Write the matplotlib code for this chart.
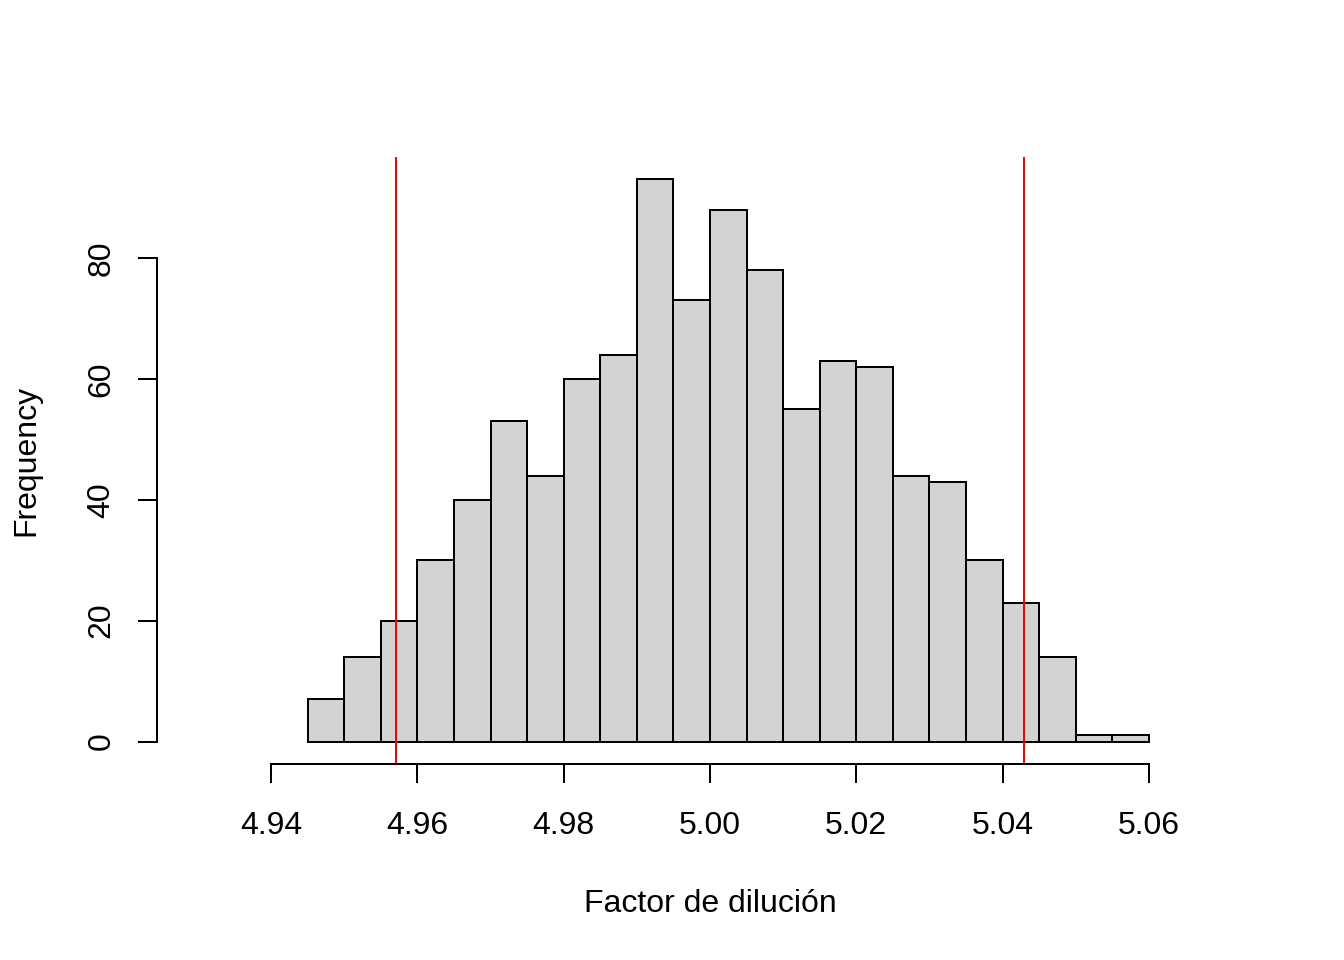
import numpy as np
import matplotlib.pyplot as plt

plt.rcParams['font.family'] = ['Liberation Sans', 'DejaVu Sans']

# histogram bins (width 0.005) and counts
breaks = np.round(np.arange(4.945, 5.0601, 0.005), 3)
counts = [7, 14, 20, 30, 40, 53, 44, 60, 64, 93, 73, 88, 78,
          55, 63, 62, 44, 43, 30, 23, 14, 1, 1]
limits = [4.9571, 5.0429]

x_ticks = [4.94, 4.96, 4.98, 5.00, 5.02, 5.04, 5.06]
x_labels = ['4.94', '4.96', '4.98', '5.00', '5.02', '5.04', '5.06']
y_ticks = [0, 20, 40, 60, 80]

fig = plt.figure(figsize=(7, 5), dpi=192)
ax = fig.add_axes([157 / 1344, 196 / 960, 1106 / 1344, 607 / 960])

lw = 0.75
ax.bar(breaks[:-1], counts, width=np.diff(breaks), align='edge',
       color='#D3D3D3', edgecolor='black', linewidth=lw)
for v in limits:
    ax.axvline(v, color='red', linewidth=lw)

ax.set_xlim(4.9244, 5.0756)
ax.set_ylim(-3.72, 96.72)

for s in ['top', 'right']:
    ax.spines[s].set_visible(False)
ax.spines['bottom'].set_bounds(4.94, 5.06)
ax.spines['left'].set_bounds(0, 80)
ax.spines['bottom'].set_linewidth(lw)
ax.spines['left'].set_linewidth(lw)

ax.set_xticks(x_ticks)
ax.set_xticklabels(x_labels)
ax.set_yticks(y_ticks)
ax.set_yticklabels([str(t) for t in y_ticks], rotation=90, va='center')
ax.tick_params(axis='both', length=7.2, width=lw, labelsize=12)
ax.tick_params(axis='x', pad=10.5)
ax.tick_params(axis='y', pad=8)

ax.set_xlabel('Factor de dilución', fontsize=12, labelpad=18)
ax.set_ylabel('Frequency', fontsize=12, labelpad=17)

fig.savefig('out.png', dpi=192)
